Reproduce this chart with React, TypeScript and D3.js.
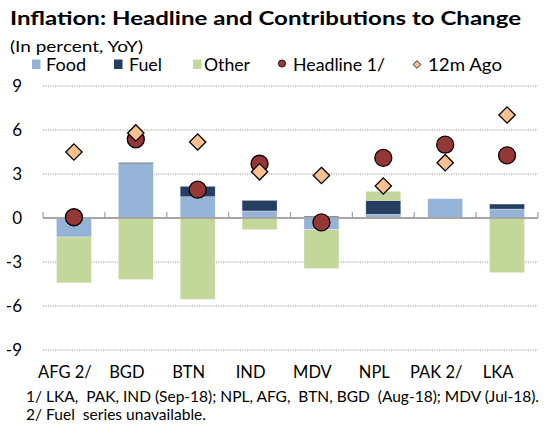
import React from "react";
import * as d3 from "d3";

const categories = ["AFG 2/", "BGD", "BTN", "IND", "MDV", "NPL", "PAK 2/", "LKA"];
const food = [-1.3, 3.7, 1.45, 0.48, -0.8, 0.25, 1.32, 0.61];
const fuel = [0, 0.08, 0.71, 0.72, 0.12, 0.95, 0, 0.34];
const other = [-3.12, -4.2, -5.55, -0.8, -2.65, 0.62, 0, -3.73];
const headline = [0.05, 5.37, 1.93, 3.7, -0.3, 4.1, 5.0, 4.27];
const ago12m = [4.5, 5.8, 5.18, 3.15, 2.9, 2.18, 3.77, 7.02];
const yTicks = [9, 6, 3, 0, -3, -6, -9];
const seriesNames = ["Food", "Fuel", "Other"];
const seriesColors = ["#95B3D7", "#243F62", "#C4D79B"];

const FONT = "Lato, 'Open Sans', sans-serif";

export default function App() {
  const W = 545, H = 428;
  const left = 43, right = 538, top = 86, bottom = 350;
  const x = d3.scaleBand<string>().domain(categories).range([left, right]).paddingInner(0.435).paddingOuter(0.2175);
  const band = d3.scaleBand<string>().domain(categories).range([left, right]);
  const y = d3.scaleLinear().domain([-9, 9]).range([bottom, top]);

  const series = [food, fuel, other];
  const rects: { key: string; x: number; y0: number; y1: number; color: string }[] = [];
  categories.forEach((c, i) => {
    let pos = 0, neg = 0;
    series.forEach((s, j) => {
      const v = s[i];
      if (!v) return;
      let a, b;
      if (v >= 0) { a = pos; b = pos + v; pos = b; } else { a = neg; b = neg + v; neg = b; }
      rects.push({ key: c + j, x: x(c)!, y0: a, y1: b, color: seriesColors[j] });
    });
  });

  const diamond = d3.symbol().type(d3.symbolDiamond2 ?? d3.symbolSquare).size(170)();
  const diamondSmall = d3.symbol().type(d3.symbolDiamond2 ?? d3.symbolSquare).size(38)();

  return (
    <svg width={W} height={H} style={{ position: "absolute", left: 0, top: 0, background: "#fff" }} fontFamily={FONT}>
      <text x={10} y={25} fontSize={19.5} fontWeight={700} textLength={511} lengthAdjust="spacingAndGlyphs">
        Inflation: Headline and Contributions to Change
      </text>
      <text x={10} y={52} fontSize={15.5} textLength={133} lengthAdjust="spacingAndGlyphs">(In percent, YoY)</text>

      {[{ sx: 32, tx: 46, w: 40 }, { sx: 114, tx: 129, w: 33 }, { sx: 193, tx: 204, w: 46 }].map((p, i) => (
        <g key={i}>
          <rect x={p.sx} y={59.5} width={8.5} height={9.5} fill={seriesColors[i]} />
          <text x={p.tx} y={71} fontSize={17} textLength={p.w} lengthAdjust="spacingAndGlyphs">{seriesNames[i]}</text>
        </g>
      ))}
      <circle cx={282} cy={63.5} r={3.6} fill="#953735" stroke="#000" strokeWidth={0.8} />
      <text x={293} y={71} fontSize={17} textLength={92} lengthAdjust="spacingAndGlyphs">Headline 1/</text>
      <path d={diamondSmall!} transform="translate(417,64.5)" fill="#FAC090" stroke="#000" strokeWidth={0.8} />
      <text x={428} y={71} fontSize={17} textLength={74} lengthAdjust="spacingAndGlyphs">12m Ago</text>

      {yTicks.filter((t) => t !== 0).map((t) => (
        <line key={t} x1={left} x2={right} y1={y(t)} y2={y(t)} stroke="#999" strokeWidth={1} strokeDasharray="1.2 1.2" />
      ))}
      {yTicks.map((t) => (
        <text key={t} x={22} y={y(t) + 6} fontSize={17} textAnchor="end">{t}</text>
      ))}

      {rects.map((r) => (
        <rect key={r.key} x={r.x} width={x.bandwidth()} y={y(Math.max(r.y0, r.y1))} height={Math.abs(y(r.y0) - y(r.y1))}
          fill={r.color} stroke="#fff" strokeOpacity={0.5} strokeWidth={0.6} />
      ))}

      <line x1={left} x2={right} y1={y(0)} y2={y(0)} stroke="#A6A6A6" strokeWidth={2} />
      {d3.range(categories.length + 1).map((i) => {
        const tx = left + i * band.step();
        return <line key={i} x1={tx} x2={tx} y1={y(0) - 6} y2={y(0)} stroke="#A6A6A6" strokeWidth={1.3} />;
      })}

      {categories.map((c, i) => (
        <circle key={"h" + c} cx={band(c)! + band.bandwidth() / 2} cy={y(headline[i])} r={8.5} fill="#953735" stroke="#000" strokeWidth={1.3} />
      ))}
      {categories.map((c, i) => (
        <path key={"a" + c} d={diamond!} transform={`translate(${band(c)! + band.bandwidth() / 2},${y(ago12m[i])})`}
          fill="#FAC090" stroke="#000" strokeWidth={1.3} />
      ))}

      {categories.map((c) => (
        <text key={"l" + c} x={band(c)! + band.bandwidth() / 2 - 9} y={378} fontSize={16.5} textAnchor="middle">{c}</text>
      ))}

      <text x={26} y={402} fontSize={15} textLength={513} lengthAdjust="spacingAndGlyphs" style={{ whiteSpace: "pre" }}>
        {"1/ LKA,  PAK, IND (Sep-18); NPL, AFG,  BTN, BGD  (Aug-18); MDV (Jul-18)."}
      </text>
      <text x={26} y={420} fontSize={15} textLength={180} lengthAdjust="spacingAndGlyphs" style={{ whiteSpace: "pre" }}>
        {"2/ Fuel  series unavailable."}
      </text>
    </svg>
  );
}
